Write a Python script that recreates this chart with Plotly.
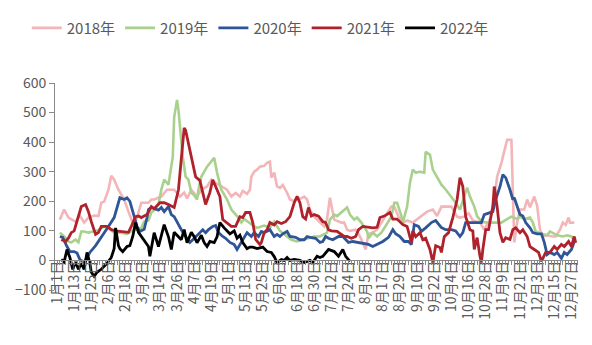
import plotly.graph_objects as go

tick_days = list(range(0, 361, 12))
tick_labels = ["1月1日", "1月13日", "1月25日", "2月6日", "2月18日", "3月2日", "3月14日", "3月26日",
               "4月7日", "4月19日", "5月1日", "5月13日", "5月25日", "6月6日", "6月18日", "6月30日",
               "7月12日", "7月24日", "8月5日", "8月17日", "8月29日", "9月10日", "9月22日", "10月4日",
               "10月16日", "10月28日", "11月9日", "11月21日", "12月3日", "12月15日", "12月27日"]

# day-of-year index (0 = 1月1日) and values
d2018 = [2, 5, 8, 13, 16, 19, 22, 26, 29, 31, 33, 36, 38, 40, 43, 47, 50, 52, 54, 57, 59, 64, 66,
         68, 73, 77, 82, 86, 89, 91, 94, 98, 101, 105, 108, 111, 115, 119, 122, 125, 128, 130, 133, 135,
         136, 138, 140, 142, 145, 147, 149, 150, 152, 154, 156, 158, 161, 163, 166, 168, 170, 173, 175,
         177, 180, 184, 187, 189, 191, 194, 199, 201, 203, 205, 209, 212, 215, 216, 218, 221, 224, 227,
         230, 234, 236, 239, 242, 245, 249, 252, 256, 259, 263, 266, 269, 272, 276, 280, 282, 285, 288,
         291, 296, 299, 303, 306, 308, 311, 313, 315, 318, 319, 320, 322, 324, 327, 329, 331, 334, 336,
         338, 340, 343, 347, 349, 352, 354, 356, 358, 359, 362]
v2018 = [138, 172, 145, 131, 152, 128, 145, 152, 150, 195, 199, 239, 286, 273, 239, 206, 165, 138, 115, 162, 195, 195, 206,
         206, 216, 239, 239, 216, 229, 210, 239, 216, 239, 250, 273, 262, 250, 239, 216, 228, 216, 235, 225, 239,
         283, 300, 307, 317, 320, 330, 334, 280, 297, 250, 245, 255, 229, 206, 200, 216, 208, 216, 206,
         172, 148, 128, 115, 140, 212, 138, 128, 128, 104, 100, 104, 81, 47, 37, 90, 94, 104, 128,
         150, 182, 182, 148, 128, 135, 128, 140, 155, 165, 172, 150, 182, 182, 182, 148, 145, 148, 160,
         135, 128, 104, 140, 206, 283, 330, 374, 408, 408, 216, 61, 128, 172, 172, 206, 180, 216, 185,
         104, 81, 85, 81, 81, 104, 128, 120, 145, 128, 128]

d2019 = [2, 5, 8, 10, 13, 15, 17, 19, 22, 26, 29, 33, 36, 40, 45, 49, 54, 56, 59, 61, 64, 66,
         68, 71, 73, 75, 78, 81, 82, 84, 85, 88, 90, 92, 94, 96, 98, 99, 101, 105, 108, 110, 112, 115,
         119, 122, 126, 129, 131, 134, 138, 140, 143, 145, 149, 152, 154, 156, 161, 164, 168, 173, 176,
         180, 184, 189, 191, 194, 196, 203, 205, 208, 210, 213, 217, 218, 221, 224, 227, 229, 234, 236,
         238, 241, 242, 245, 247, 249, 251, 254, 257, 258, 261, 263, 266, 269, 272, 276, 279, 282, 284,
         287, 289, 292, 294, 297, 301, 304, 308, 311, 315, 318, 322, 324, 327, 331, 333, 335, 339, 343,
         345, 350, 354, 357, 360, 362]
v2019 = [94, 81, 64, 61, 70, 61, 98, 98, 94, 98, 102, 115, 110, 94, 94, 90, 104, 104, 110, 131, 135, 162,
         170, 190, 239, 273, 256, 350, 485, 543, 509, 350, 283, 273, 229, 220, 206, 239, 283, 317, 334, 347, 297, 239,
         206, 172, 150, 128, 140, 128, 115, 110, 115, 118, 111, 131, 115, 100, 81, 70, 64, 70, 75,
         81, 81, 94, 138, 155, 150, 179, 155, 138, 145, 128, 98, 75, 94, 81, 94, 110, 148, 195,
         195, 150, 128, 182, 263, 307, 297, 300, 297, 367, 357, 307, 283, 256, 240, 216, 195, 172, 200,
         246, 216, 182, 150, 131, 128, 128, 128, 128, 140, 148, 140, 148, 140, 145, 128, 98, 90, 85,
         98, 85, 81, 85, 81, 71]

d2020 = [2, 4, 7, 9, 12, 14, 16, 19, 21, 23, 27, 31, 36, 40, 42, 44, 47, 49, 51, 54, 56, 58, 61, 63, 64, 66,
         69, 71, 73, 75, 78, 80, 82, 85, 87, 90, 93, 95, 97, 100, 102, 104, 106, 109, 111, 113, 116, 118,
         121, 124, 126, 128, 131, 133, 136, 138, 141, 143, 145, 149, 152, 154, 156, 158, 161, 163, 167,
         170, 173, 175, 177, 181, 184, 186, 188, 190, 193, 197, 200, 202, 204, 207, 210, 215, 218, 221,
         225, 228, 232, 235, 237, 240, 243, 246, 248, 250, 253, 255, 258, 262, 265, 269, 272, 276, 279,
         282, 284, 286, 290, 294, 297, 299, 303, 305, 307, 310, 312, 314, 317, 319, 320, 322, 324, 326,
         328, 331, 333, 336, 339, 341, 343, 345, 348, 350, 353, 355, 357, 360, 362]
v2020 = [81, 78, 47, 30, 30, 25, 3, -7, 10, 27, 50, 81, 115, 145, 179, 212, 206, 212, 200, 148, 115, 98, 105, 145, 172, 179,
         172, 170, 179, 165, 182, 155, 148, 120, 104, 81, 61, 70, 81, 94, 104, 94, 104, 115, 118, 94, 81, 75,
         61, 54, 37, 54, 81, 94, 81, 94, 81, 98, 94, 104, 81, 88, 81, 90, 98, 81, 78,
         70, 70, 81, 78, 75, 61, 64, 81, 75, 70, 81, 81, 70, 61, 64, 61, 58, 54, 47,
         58, 64, 78, 104, 90, 81, 64, 64, 54, 121, 115, 98, 110, 128, 135, 111, 104, 104, 100,
         81, 94, 128, 128, 128, 128, 155, 162, 165, 206, 250, 290, 280, 239, 206, 212, 179, 155, 150,
         128, 110, 94, 90, 90, 61, 20, 27, 20, 27, 7, 27, 20, 37, 64]

d2021 = [3, 6, 8, 10, 12, 15, 17, 20, 22, 24, 27, 29, 31, 35, 38, 41, 45, 48, 50, 52, 55, 57, 59, 61, 63, 66,
         68, 72, 75, 78, 82, 85, 87, 89, 90, 93, 95, 97, 100, 102, 104, 107, 109, 111, 114, 116, 119,
         122, 125, 128, 130, 132, 135, 137, 139, 142, 143, 145, 147, 149, 152, 154, 157, 160, 163, 166,
         168, 170, 172, 174, 176, 178, 180, 183, 186, 188, 190, 192, 196, 201, 203, 206, 209, 211, 214,
         217, 221, 224, 226, 229, 233, 235, 238, 242, 245, 248, 249, 251, 254, 256, 258, 261, 263, 265,
         268, 269, 271, 274, 277, 280, 282, 284, 286, 289, 291, 292, 294, 296, 297, 298, 300, 302, 305,
         306, 308, 310, 312, 314, 317, 319, 321, 324, 326, 329, 331, 334, 337, 339, 342, 345, 348, 350,
         353, 355, 358, 360, 362, 363]
v2021 = [71, 64, 75, 94, 100, 148, 182, 189, 165, 131, 88, 94, 115, 115, 104, 100, 98, 94, 95, 115, 148, 150, 145, 150, 155, 182,
         175, 195, 195, 189, 179, 239, 350, 448, 440, 374, 330, 283, 270, 229, 189, 230, 273, 250, 216, 138, 128,
         115, 115, 148, 145, 162, 162, 128, 71, 54, 60, 94, 104, 128, 120, 131, 125, 131, 148, 195,
         216, 195, 148, 140, 179, 150, 155, 150, 131, 128, 104, 100, 98, 81, 81, 75, 81, 104, 115,
         112, 110, 112, 145, 150, 162, 140, 140, 121, 115, 61, 100, 80, 94, 70, 75, 37, -7, 50,
         44, 27, 80, 94, 145, 206, 280, 250, 148, 104, 100, 37, 77, 14, -7, 37, 104, 104, 182,
         250, 182, 94, 61, 77, 71, 104, 110, 94, 104, 81, 47, 37, 27, -3, 27, 27, 47, 37,
         54, 47, 64, 47, 81, 60]

d2022 = [3, 5, 7, 9, 11, 13, 15, 17, 19, 21, 23, 24, 26, 28, 31, 35, 38, 40, 41, 43, 44, 46, 49, 51, 53, 55,
         57, 59, 62, 64, 65, 68, 71, 73, 75, 78, 80, 82, 84, 87, 89, 91, 94, 96, 98, 101, 103, 105, 107,
         110, 112, 114, 117, 119, 121, 124, 126, 128, 130, 133, 135, 137, 140, 144, 147, 150, 152, 154,
         157, 159, 161, 163, 166, 170, 173, 177, 179, 182, 184, 186, 190, 194, 197, 200, 202, 205]
v2022 = [3, -5, 37, 10, -30, -5, -30, -10, -30, 27, -10, -40, -54, -40, -30, -10, 10, 40, 110, 50, 40, 30, 47, 50, 81, 128,
         95, 81, 60, 47, 14, 94, 47, 80, 121, 80, 37, 95, 85, 70, 104, 60, 95, 80, 60, 85, 60, 47, 64,
         60, 80, 128, 110, 100, 90, 100, 75, 85, 60, 40, 45, 45, 40, 45, 30, 27, 13, -7,
         3, 0, 10, 0, 3, 0, -7, 0, -7, 14, 10, 14, 37, 30, 14, 37, 14, -3]

series = [
    ("2018年", d2018, v2018, "#F4B5B8", 2.6),
    ("2019年", d2019, v2019, "#A9D18E", 2.6),
    ("2020年", d2020, v2020, "#2F5597", 2.8),
    ("2021年", d2021, v2021, "#B0222B", 2.8),
    ("2022年", d2022, v2022, "#000000", 2.8),
]

FONT = "Noto Sans CJK SC"
fig = go.Figure()
for name, xs, ys, color, w in series:
    fig.add_trace(go.Scatter(x=xs, y=ys, name=name, mode="lines",
                             line=dict(color=color, width=w)))
# helper trace so the zero-line axis is drawn
fig.add_trace(go.Scatter(x=[], y=[], xaxis="x2", showlegend=False, hoverinfo="skip"))

xr = [-1.4, 364.6]
fig.update_layout(
    width=592, height=345, autosize=False,
    margin=dict(l=55, r=12, t=83, b=55),
    paper_bgcolor="white", plot_bgcolor="white",
    font=dict(family=FONT, color="#595959"),
    showlegend=True,
    legend=dict(orientation="h", x=-0.054, xanchor="left", y=1.345, yanchor="top",
                font=dict(size=15, color="#595959", family=FONT),
                itemwidth=30, tracegroupgap=0, bgcolor="rgba(0,0,0,0)"),
    xaxis=dict(range=xr, tickmode="array", tickvals=tick_days, ticktext=tick_labels,
               tickangle=-90, showgrid=False, zeroline=False, showline=False, ticks="",
               anchor="free", position=0.16,
               tickfont=dict(size=14, color="#595959", family=FONT)),
    xaxis2=dict(range=xr, overlaying="x", anchor="free", position=1/7,
                showticklabels=False, showgrid=False, zeroline=False,
                showline=True, linecolor="#898989", linewidth=1,
                ticks="outside", ticklen=4, tickcolor="#898989", tickwidth=1,
                tickmode="linear", tick0=0, dtick=2),
    yaxis=dict(range=[-100, 600], dtick=100, tick0=0, showgrid=False, zeroline=False,
               showline=True, linecolor="#898989", linewidth=1,
               ticks="outside", ticklen=5, tickcolor="#898989",
               tickfont=dict(size=14, color="#595959", family=FONT)),
)

fig.write_html("out.html")
